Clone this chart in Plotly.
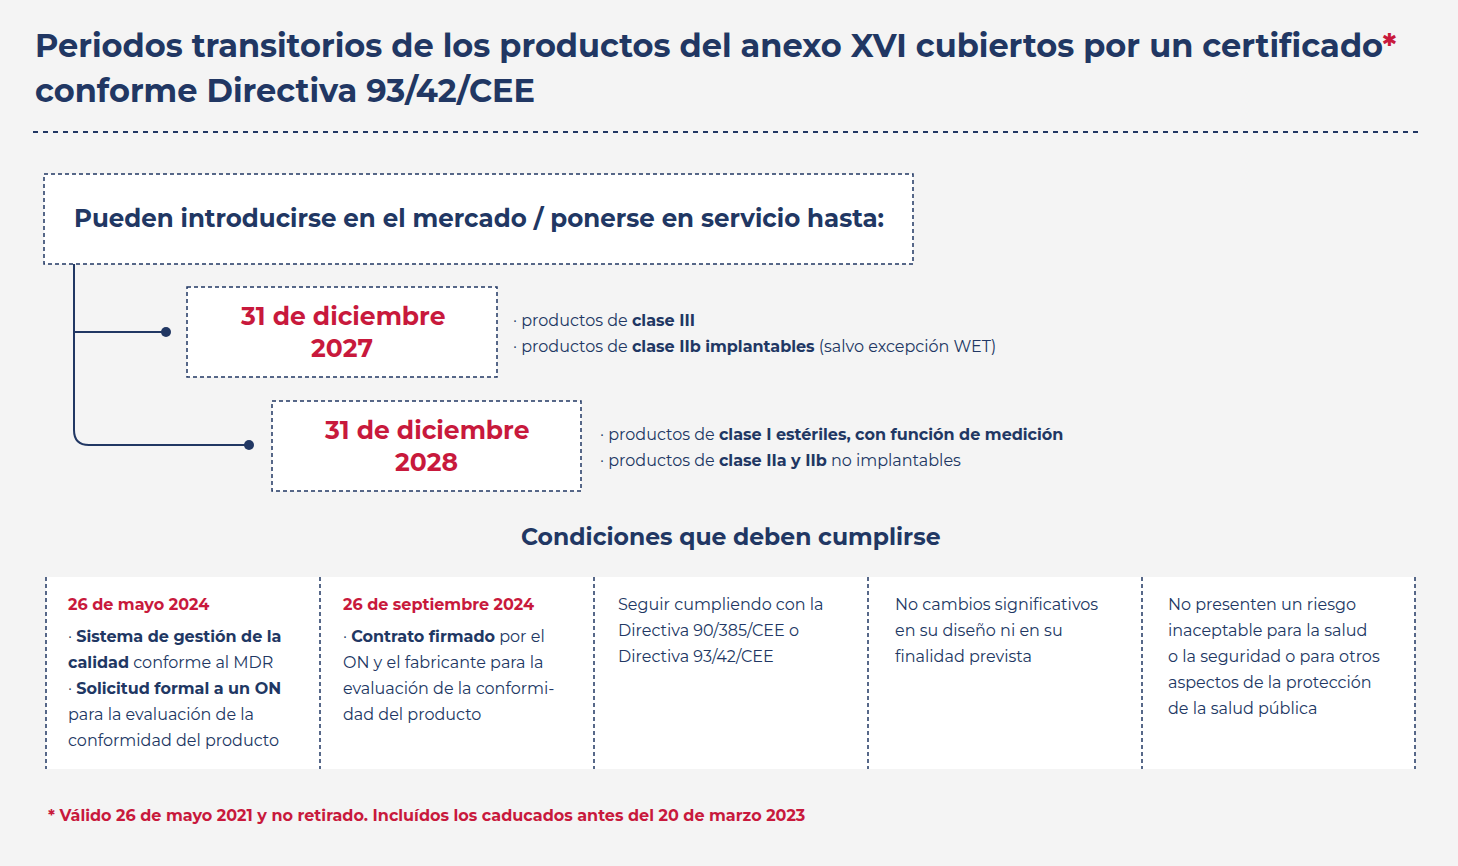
import plotly.graph_objects as go

NAVY = "#213763"
RED = "#c8193c"
FONT = "Montserrat, Inter, Open Sans, sans-serif"

title_lines = ["Periodos transitorios de los productos del anexo XVI cubiertos por un certificado<span style='color:#c8193c'>*</span>",
               "conforme Directiva 93/42/CEE"]
header = "Pueden introducirse en el mercado / ponerse en servicio hasta:"
dates = [["31 de diciembre", "2027"], ["31 de diciembre", "2028"]]
bullets = [["· productos de <b>clase III</b>",
            "· productos de <b>clase IIb implantables</b> (salvo excepción WET)"],
           ["· productos de <b>clase I estériles, con función de medición</b>",
            "· productos de <b>clase IIa y IIb</b> no implantables"]]
cond_title = "Condiciones que deben cumplirse"
cond_heads = ["26 de mayo 2024", "26 de septiembre 2024", "", "", ""]
cond_lines = [
    ["· <b>Sistema de gestión de la</b>", "<b>calidad</b> conforme al MDR", "· <b>Solicitud formal a un ON</b>",
     "para la evaluación de la", "conformidad del producto"],
    ["· <b>Contrato firmado</b> por el", "ON y el fabricante para la", "evaluación de la conformi-",
     "dad del producto"],
    ["Seguir cumpliendo con la", "Directiva 90/385/CEE o", "Directiva 93/42/CEE"],
    ["No cambios significativos", "en su diseño ni en su", "finalidad prevista"],
    ["No presenten un riesgo", "inaceptable para la salud", "o la seguridad o para otros",
     "aspectos de la protección", "de la salud pública"],
]
footnote = "* Válido 26 de mayo 2021 y no retirado. Incluídos los caducados antes del 20 de marzo 2023"

fig = go.Figure()
shapes, ann = [], []
DASH = "4px,3px"

def text(x, y, t, size, color=NAVY, xanchor="left", bold=False):
    ann.append(dict(x=x, y=y, text=f"<b>{t}</b>" if bold else t, showarrow=False, xanchor=xanchor,
                    yanchor="middle", font=dict(size=size, color=color, family=FONT)))

for i, t in enumerate(title_lines):
    text(33, 45 + 45 * i, t, 32, bold=True)
shapes.append(dict(type="line", x0=33, x1=1420, y0=132, y1=132, line=dict(color=NAVY, width=2, dash="5px,5px")))

def box(x0, y0, x1, y1):
    shapes.append(dict(type="rect", x0=x0, x1=x1, y0=y0, y1=y1, fillcolor="white",
                       line=dict(color=NAVY, width=1.5, dash=DASH), layer="below"))

box(44, 174, 913, 264)
text(479, 218, header, 24.5, xanchor="center", bold=True)

shapes.append(dict(type="path", path="M 74 264 L 74 430 Q 74 445 89 445 L 249 445",
                   line=dict(color=NAVY, width=2)))
shapes.append(dict(type="line", x0=74, x1=166, y0=332, y1=332, line=dict(color=NAVY, width=2)))
for (cx, cy) in [(166, 332), (249, 445)]:
    shapes.append(dict(type="circle", x0=cx - 5, x1=cx + 5, y0=cy - 5, y1=cy + 5,
                       fillcolor=NAVY, line=dict(color=NAVY, width=0)))

boxes = [(187, 287, 497, 377), (272, 401, 581, 491)]
bx = [511, 598]
for k, (x0, y0, x1, y1) in enumerate(boxes):
    box(x0, y0, x1, y1)
    text((x0 + x1) / 2, y0 + 29, dates[k][0], 25, RED, "center", True)
    text((x0 + x1) / 2, y0 + 61, dates[k][1], 25, RED, "center", True)
    for j, b in enumerate(bullets[k]):
        text(bx[k], y0 + 33 + 26 * j, b, 16)

text(731, 536, cond_title, 23.5, xanchor="center", bold=True)

shapes.append(dict(type="rect", x0=46, x1=1415, y0=577, y1=769, fillcolor="white",
                   line=dict(width=0), layer="below"))
for x in [46, 320, 594, 868, 1142, 1415]:
    shapes.append(dict(type="line", x0=x, x1=x, y0=577, y1=769, line=dict(color=NAVY, width=1.5, dash=DASH)))
cx = [66, 341, 616, 893, 1166]
for c in range(5):
    y = 604
    if cond_heads[c]:
        text(cx[c], y, cond_heads[c], 16, RED, bold=True)
        y += 32
    for line in cond_lines[c]:
        text(cx[c], y, line, 16)
        y += 26

text(46, 815, footnote, 16, RED, bold=True)

fig.update_layout(width=1458, height=866, margin=dict(l=0, r=0, t=0, b=0),
                  paper_bgcolor="#f4f4f4", plot_bgcolor="#f4f4f4", shapes=shapes, annotations=ann,
                  xaxis=dict(range=[0, 1458], visible=False), yaxis=dict(range=[866, 0], visible=False),
                  showlegend=False)
fig.write_html("out.html", config=dict(displayModeBar=False))
with open("out.html", encoding="utf-8") as f:
    html = f.read()
html = html.replace("<body>", "<body style=\"margin:0;background:#f4f4f4;overflow:hidden\">", 1)
with open("out.html", "w", encoding="utf-8") as f:
    f.write(html)
